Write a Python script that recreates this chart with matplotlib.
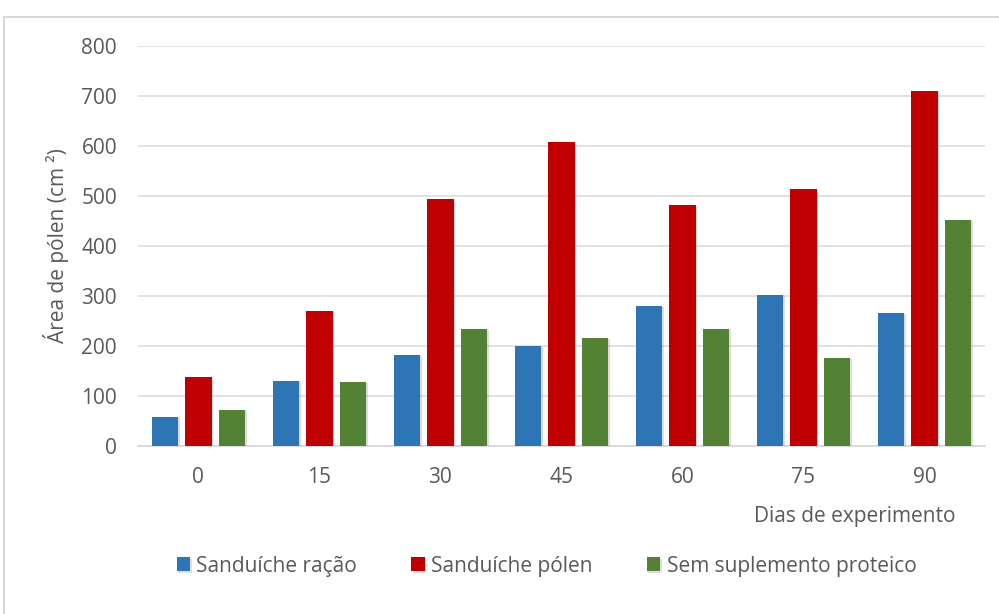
import numpy as np
import matplotlib
matplotlib.use("Agg")
import matplotlib.pyplot as plt
import matplotlib.patheffects as pe
from matplotlib.patches import Rectangle

plt.rcParams["font.family"] = ["Open Sans", "DejaVu Sans"]

dias = ["0", "15", "30", "45", "60", "75", "90"]
sanduiche_racao = [59, 131, 183, 201, 281, 303, 267]
sanduiche_polen = [139, 270, 493, 607, 481, 513, 709]
sem_suplemento = [73, 129, 234, 217, 234, 177, 452]

series = [
    ("Sanduíche ração", sanduiche_racao, "#2E75B6"),
    ("Sanduíche pólen", sanduiche_polen, "#C00000"),
    ("Sem suplemento proteico", sem_suplemento, "#548235"),
]

text_gray = "#595959"
grid_gray = "#D9D9D9"
fs = 15

fig = plt.figure(figsize=(9.99, 6.14), dpi=100)
# outer chart frame
fig.patches.append(Rectangle((4 / 999, -0.05), 1.1, 1 - 17 / 614 + 0.05,
                             transform=fig.transFigure, fill=False,
                             edgecolor="#D0D0D0", linewidth=1.2))

ax = fig.add_axes([0.138, 0.2736, 0.848, 0.6515])

x = np.arange(len(dias))
width = 0.22
step = 0.277
shadow = [pe.SimplePatchShadow(offset=(1.0, -1.0), shadow_rgbFace="#909090", alpha=0.3),
          pe.Normal()]
for i, (name, vals, color) in enumerate(series):
    bars = ax.bar(x + (i - 1) * step, vals, width, color=color, label=name, zorder=3)
    for b in bars:
        b.set_path_effects(shadow)

ax.set_xlim(-0.5, len(dias) - 0.5)
ax.set_ylim(0, 800)
ax.set_yticks(range(0, 801, 100))
ax.set_xticks(x)
ax.set_xticklabels(dias)
ax.tick_params(axis="both", length=0, labelsize=fs, colors=text_gray)
ax.tick_params(axis="y", pad=15)
ax.tick_params(axis="x", pad=15)
ax.yaxis.grid(True, color=grid_gray, linewidth=1.1, zorder=0)
ax.set_axisbelow(True)
for side in ["top", "right", "left"]:
    ax.spines[side].set_visible(False)
ax.spines["bottom"].set_color(grid_gray)
ax.spines["bottom"].set_linewidth(1.3)

ax.set_ylabel("Área de pólen (cm ²)", fontsize=fs, color=text_gray, labelpad=9)
fig.text(0.956, 0.158, "Dias de experimento", ha="right", va="center",
         fontsize=fs, color=text_gray)

fig.legend(loc="center", bbox_to_anchor=(0.547, 0.078), ncol=3, frameon=False,
           fontsize=fs, labelcolor=text_gray, handlelength=0.65, handleheight=0.65,
           handletextpad=0.3, columnspacing=2.6)

fig.savefig("out.png", dpi=100)
